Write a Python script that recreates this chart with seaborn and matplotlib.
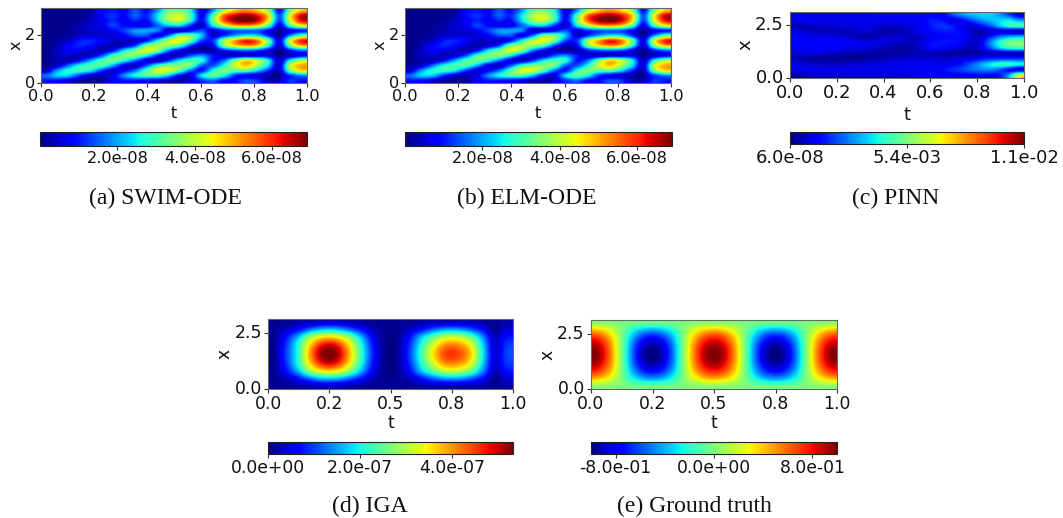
import numpy as np
import seaborn as sns
import matplotlib.pyplot as plt

# absolute error on the (t, x) grid, first row = top of the panel (x = pi)
# in units of 1e-8
swim_ode = [
    [.1,.1,.1,.1,.2,.8,1.0,.8,1.4,.9,1.8,3.2,3.4,2.6,.6,1.8,3.8,4.8,5.2,4.8,3.6,.9,3.4,4.8],
    [.1,.1,.1,.1,.3,.9,1.2,.9,1.5,1.1,2.4,3.8,4.2,3.0,.8,3.0,5.5,6.4,6.8,6.2,4.8,1.4,4.4,6.4],
    [.1,.1,.1,.2,.4,.7,1.1,.7,1.1,.9,2.2,3.6,4.0,2.8,.8,3.2,5.6,6.7,7.0,6.5,4.6,1.3,4.2,6.2],
    [.1,.1,.1,.3,.5,.7,1.3,.9,.7,.7,1.5,2.2,2.4,1.2,.4,2.4,4.0,5.0,5.2,4.8,3.2,.7,3.0,4.4],
    [.1,.1,.2,.3,.5,.5,.8,1.3,1.9,2.0,1.8,.4,.4,.8,1.4,.6,1.2,1.5,1.6,1.5,.9,.1,.7,1.0],
    [.1,.1,.2,.4,.5,.5,.5,.8,1.4,1.4,.6,1.6,3.4,3.4,2.2,.5,1.2,2.0,2.5,2.4,1.2,.2,1.8,3.2],
    [.1,.2,.4,1.0,1.1,.8,.5,.5,.4,.9,2.4,3.8,4.4,3.4,1.4,1.2,3.6,5.0,6.0,5.4,3.4,.6,4.2,6.0],
    [.1,.3,.8,1.1,.9,.5,.3,.5,1.3,3.3,3.8,3.7,3.0,1.4,.4,.8,3.4,4.6,5.2,4.8,2.8,.5,3.4,5.0],
    [.1,.4,.8,.7,.5,.3,.9,2.4,3.3,4.2,3.6,1.8,.8,.3,.2,.2,1.0,1.4,1.6,1.4,.7,.1,1.0,1.6],
    [.1,.4,.5,.3,.5,1.4,2.9,3.4,3.5,2.6,1.2,.4,.5,1.4,1.8,1.0,.4,.4,.5,.6,.7,.1,.4,.8],
    [.1,.3,.3,.9,2.0,3.0,3.3,2.7,1.6,.6,.4,1.2,2.4,3.0,2.8,1.0,1.6,3.4,4.6,4.0,2.6,.4,2.6,3.8],
    [.2,.5,1.6,2.6,3.0,3.0,2.0,.7,.4,1.4,2.8,3.4,3.5,3.3,1.5,1.4,2.6,4.0,4.8,3.8,2.4,.5,4.0,5.0],
    [.5,1.9,2.7,2.9,2.5,1.3,.5,.8,1.6,3.0,4.2,4.2,3.2,1.6,1.0,2.6,3.4,3.2,3.2,2.4,1.2,.4,3.4,4.6],
    [1.6,2.3,2.2,1.2,.5,.3,.7,1.8,2.6,3.0,3.0,2.2,.9,.5,2.4,3.2,2.6,1.2,.7,.5,.2,.1,1.2,1.8],
    [1.0,.9,.6,.3,.2,.3,.7,1.0,1.0,.8,.7,.5,.3,.6,1.2,1.6,.9,.9,1.4,1.2,.4,.4,1.2,1.0],
]

# looks the same as SWIM-ODE in the picture
elm_ode = swim_ode

# units of 1e-3
pinn = [
    [1.0,1.0,1.0,1.0,1.0,1.0,1.0,1.0,1.1,1.1,1.1,1.1,1.1,1.1,1.3,1.0,2.0,2.8,3.3,3.6,3.6,3.0,2.0,.9],
    [1.1,1.1,1.1,1.0,1.0,1.0,1.0,1.0,1.1,1.1,1.1,1.1,1.1,1.2,1.6,1.5,.9,1.2,2.0,2.8,3.3,3.6,3.8,3.0],
    [.5,.6,.7,.8,.9,.9,1.0,1.0,.9,.8,.8,.8,.9,1.1,1.6,1.9,1.7,1.1,.9,1.4,2.2,3.4,4.4,4.6],
    [.9,.8,.6,.5,.5,.5,.6,.8,.7,.4,.3,.4,.8,1.1,1.4,1.6,1.6,1.4,.8,.4,.6,.8,.7,.5],
    [1.2,1.1,1.0,1.0,1.0,.9,.6,.4,.4,.7,.8,.8,.6,.7,1.0,1.2,1.4,1.4,.9,.7,1.6,2.6,3.2,3.4],
    [1.3,1.3,1.3,1.3,1.3,1.2,1.1,1.0,1.0,.9,.8,.6,.6,.9,1.4,1.6,1.5,1.3,.8,1.0,2.6,4.2,5.2,5.4],
    [1.2,1.2,1.2,1.2,1.2,1.1,1.0,1.0,.8,.6,.5,.4,.4,.9,1.4,1.3,1.1,.8,.5,1.0,2.2,3.6,4.4,4.6],
    [.9,.9,.9,.8,.7,.6,.5,.4,.4,.3,.3,.3,.5,.5,.5,.4,.3,.3,.3,.4,.6,.6,.6,.6],
    [.5,.4,.3,.3,.2,.2,.2,.3,.4,.5,.7,.8,.8,.8,.8,.8,.8,.9,1.1,1.5,1.8,1.9,1.9,1.9],
    [1.0,.9,.7,.7,.7,.7,.8,.9,.9,1.0,1.0,1.0,1.1,1.1,1.1,1.1,1.2,1.5,2.2,3.0,3.8,4.4,4.4,4.0],
    [1.1,1.0,1.0,1.0,1.0,1.0,1.0,1.0,1.0,1.0,1.0,1.1,1.1,1.1,1.2,1.4,1.7,2.0,2.4,2.7,2.8,2.3,1.4,.7],
    [.3,.5,.6,.7,.7,.7,.7,.7,.7,.7,.7,.8,.8,.9,1,1.1,1.2,1.3,1.3,1.4,1.4,1.6,3.2,6.5],
]

# units of 1e-7
iga = [
    [.1,.1,.2,.3,.4,.4,.3,.2,.1,.1,.1,.1,.2,.3,.3,.3,.3,.2,.1,.2],
    [.1,.3,.7,1.3,1.7,1.7,1.3,.8,.3,.1,.1,.3,.7,1.2,1.5,1.5,1.2,.7,.1,.4],
    [.1,.7,1.6,2.8,3.4,3.4,2.8,1.7,.6,.1,.1,.6,1.6,2.4,3,3,2.5,1.4,.3,.7],
    [.1,.9,2.1,3.6,4.6,4.6,3.6,2.2,.8,.1,.1,.8,2,3.1,3.9,3.9,3.3,1.8,.4,.9],
    [.1,1,2.2,4,5.2,5.2,4,2.4,.9,.1,.1,.9,2.2,3.5,4.4,4.4,3.7,2,.4,1.0],
    [.1,1,2.2,4,5.2,5.2,4,2.4,.9,.1,.1,.9,2.2,3.5,4.4,4.4,3.7,2,.4,1.0],
    [.1,.9,2.1,3.6,4.6,4.6,3.6,2.2,.8,.1,.1,.8,2,3.1,3.9,3.9,3.3,1.8,.4,.9],
    [.1,.7,1.6,2.8,3.4,3.4,2.8,1.7,.6,.1,.1,.6,1.6,2.4,3,3,2.5,1.4,.3,.7],
    [.1,.3,.7,1.3,1.7,1.7,1.3,.8,.3,.1,.1,.3,.7,1.2,1.5,1.5,1.2,.7,.1,.4],
    [.1,.1,.2,.3,.4,.4,.3,.2,.1,.1,.1,.1,.2,.3,.3,.3,.3,.2,.1,.2],
]

truth = [
    [.06,.04,0,-.04,-.06,-.06,-.04,0,.04,.06,.06,.04,0,-.04,-.06,-.06,-.04,0,.04,.06],
    [.42,.26,0,-.26,-.42,-.42,-.26,0,.26,.42,.42,.26,0,-.26,-.42,-.42,-.26,0,.26,.42],
    [.70,.44,0,-.44,-.70,-.70,-.44,0,.44,.70,.70,.44,0,-.44,-.70,-.70,-.44,0,.44,.70],
    [.87,.55,0,-.55,-.87,-.87,-.55,0,.55,.87,.87,.55,0,-.55,-.87,-.87,-.55,0,.55,.87],
    [.96,.60,0,-.60,-.96,-.96,-.60,0,.60,.96,.96,.60,0,-.60,-.96,-.96,-.60,0,.60,.96],
    [.96,.60,0,-.60,-.96,-.96,-.60,0,.60,.96,.96,.60,0,-.60,-.96,-.96,-.60,0,.60,.96],
    [.87,.55,0,-.55,-.87,-.87,-.55,0,.55,.87,.87,.55,0,-.55,-.87,-.87,-.55,0,.55,.87],
    [.70,.44,0,-.44,-.70,-.70,-.44,0,.44,.70,.70,.44,0,-.44,-.70,-.70,-.44,0,.44,.70],
    [.42,.26,0,-.26,-.42,-.42,-.26,0,.26,.42,.42,.26,0,-.26,-.42,-.42,-.26,0,.26,.42],
    [.06,.04,0,-.04,-.06,-.06,-.04,0,.04,.06,.06,.04,0,-.04,-.06,-.06,-.04,0,.04,.06],
]

t_ticks_fine = [0.0, 0.2, 0.4, 0.6, 0.8, 1.0]
t_labels_fine = ['0.0', '0.2', '0.4', '0.6', '0.8', '1.0']
t_ticks_quarter = [0.0, 0.25, 0.5, 0.75, 1.0]
t_labels_quarter = ['0.0', '0.2', '0.5', '0.8', '1.0']

W, H = 1063, 518
X_MAX = 3.14

sns.set_theme(style='ticks')
plt.rcParams['font.family'] = ['DejaVu Sans']

fig = plt.figure(figsize=(W / 100, H / 100), dpi=100, facecolor='white')


def px_axes(x0, y0, x1, y1):
    return fig.add_axes([x0 / W, 1 - y1 / H, (x1 - x0) / W, (y1 - y0) / H])


def panel(grid, scale, vmin, vmax, box, cbox, t_ticks, t_labels, x_ticks, x_labels,
          cticks, caption, cap_xy, fs, tpad=0.5):
    ax = px_axes(*box)
    cax = px_axes(*cbox)
    data = np.array(grid) * scale
    nr, nc = data.shape
    sns.heatmap(data, ax=ax, cmap='jet', vmin=vmin, vmax=vmax, cbar_ax=cax,
                cbar_kws={'orientation': 'horizontal', 'ticks': cticks, 'format': '%.1e'})
    # smooth the cells the way the source image is smoothed
    ax.imshow(data, cmap='jet', vmin=vmin, vmax=vmax, aspect='auto',
              interpolation='catrom', extent=(0, nc, nr, 0), zorder=2)
    ax.set_xlim(0, nc)
    ax.set_ylim(nr, 0)
    ax.set_xticks([v * nc for v in t_ticks], t_labels, rotation=0)
    ax.set_yticks([(1 - v / X_MAX) * nr for v in x_ticks], x_labels, rotation=0)
    ax.tick_params(labelsize=fs, length=3, width=0.8, pad=1.5, color='#333333', labelcolor='#111111')
    ax.set_xlabel('t', fontsize=fs, labelpad=tpad, color='#111111')
    ax.set_ylabel('x', fontsize=fs, labelpad=0.5, color='#111111')
    for s in ax.spines.values():
        s.set_visible(True)
        s.set_color('#666666')
        s.set_linewidth(0.8)
    cax.tick_params(labelsize=fs, length=3, width=0.8, pad=0.5, color='#333333', labelcolor='#111111')
    for s in cax.spines.values():
        s.set_visible(False)
    cbar = ax.collections[0].colorbar
    cbar.outline.set_visible(True)
    cbar.outline.set_edgecolor('#222222')
    cbar.outline.set_linewidth(0.8)
    fig.text(cap_xy[0] / W, 1 - cap_xy[1] / H, caption, ha='center', va='center',
             family='Liberation Serif', fontsize=17, color='#111111')


panel(swim_ode, 1e-8, 0, 6.9e-8, (41, 8, 307, 83), (40, 132, 307, 146),
      t_ticks_fine, t_labels_fine, [0, 2], ['0', '2'], [2e-8, 4e-8, 6e-8],
      '(a) SWIM-ODE', (165, 198), 11.6, 1.0)
panel(elm_ode, 1e-8, 0, 6.9e-8, (405, 8, 671, 83), (405, 132, 672, 146),
      t_ticks_fine, t_labels_fine, [0, 2], ['0', '2'], [2e-8, 4e-8, 6e-8],
      '(b) ELM-ODE', (527, 198), 11.6, 1.0)
panel(pinn, 1e-3, 6e-8, 1.08e-2, (790, 12, 1024, 78), (790, 132, 1024, 144),
      t_ticks_fine, t_labels_fine, [0, 2.5], ['0.0', '2.5'], [6e-8, 5.4e-3, 1.08e-2],
      '(c) PINN', (896, 198), 13, 2.5)
panel(iga, 1e-7, 0, 5.32e-7, (268, 319, 513, 389), (268, 442, 513, 454),
      t_ticks_quarter, t_labels_quarter, [0, 2.5], ['0.0', '2.5'], [0, 2e-7, 4e-7],
      '(d) IGA', (370, 506), 12.4)
panel(truth, 1, -1, 1, (591, 320, 837, 389), (591, 442, 837, 454),
      t_ticks_quarter, t_labels_quarter, [0, 2.5], ['0.0', '2.5'], [-0.8, 0, 0.8],
      '(e) Ground truth', (694, 506), 12.4)

fig.savefig('out.png', dpi=100)
